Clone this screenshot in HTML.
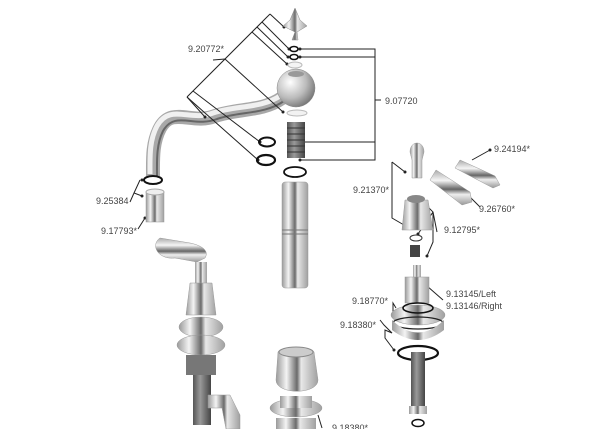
<!DOCTYPE html>
<html><head><meta charset="utf-8"><style>
html,body{margin:0;padding:0;background:#fff;width:600px;height:429px;overflow:hidden}
svg{display:block}
text{font-family:"Liberation Sans",sans-serif;font-size:9px;fill:#444}
</style></head><body>
<svg width="600" height="429" viewBox="0 0 600 429" xmlns="http://www.w3.org/2000/svg">
<defs>
<linearGradient id="m" x1="0" x2="1" y1="0" y2="0">
<stop offset="0" stop-color="#9a9a9a"/><stop offset=".25" stop-color="#f4f4f4"/><stop offset=".5" stop-color="#6a6a6a"/><stop offset=".6" stop-color="#e8e8e8"/><stop offset="1" stop-color="#a0a0a0"/></linearGradient>
<linearGradient id="mv" x1="0" x2="0" y1="0" y2="1">
<stop offset="0" stop-color="#aaa"/><stop offset=".3" stop-color="#f5f5f5"/><stop offset=".55" stop-color="#666"/><stop offset=".7" stop-color="#eee"/><stop offset="1" stop-color="#999"/></linearGradient>
<linearGradient id="d" x1="0" x2="1"><stop offset="0" stop-color="#555"/><stop offset=".4" stop-color="#999"/><stop offset="1" stop-color="#444"/></linearGradient>
<radialGradient id="b" cx=".35" cy=".35" r=".7"><stop offset="0" stop-color="#fff"/><stop offset=".6" stop-color="#bbb"/><stop offset="1" stop-color="#777"/></radialGradient>
</defs>
<!-- spout -->
<path d="M282 98 C262 112 238 108 215 116 C192 125 172 106 160 128 C152 143 153 160 153 176" fill="none" stroke="#a8a8a8" stroke-width="14"/>
<path d="M280 96 C260 109 236 105 213 113 C190 122 170 103 157 126 C149 141 150 158 150 174" fill="none" stroke="#f0f0f0" stroke-width="5"/>
<path d="M284 101 C264 115 240 111 217 119 C194 128 175 110 163 131 C156 145 157 162 157 176" fill="none" stroke="#666" stroke-width="2"/>
<g fill="none" stroke="#222" stroke-width="1">
<path d="M270 14 L187 97"/>
<path d="M270 14 L284 27"/>
<path d="M262 22 L289 49 M257 27 L288 57 M252 32 L287 64"/>
<path d="M225 59 L283 112"/>
<path d="M213 60 L225 59"/>
<path d="M187 97 L205 117"/>
<path d="M193 91 L260 142"/>
<path d="M187 97 L258 160"/>
<path d="M300 49 H375 V160 H300 M300 57 H375 M375 100 H381 M300 142 H375"/>
<path d="M392 162 L405 172 M392 162 V218 L404 225"/>
<path d="M427 206 L433 212 L418 234 M433 212 L437 232 M433 212 V242 L427 256"/>
<path d="M472 160 L490 150"/>
<path d="M466 193 L480 207"/>
<path d="M427 286 L443 300"/>
<path d="M396 308 L393 303 V312 L396 317"/>
<path d="M380 320 L384 325 L392 333 L385 330 V338 L394 350"/>
<path d="M140 180 L134 193 L142 196 M134 193 L130 202"/>
<path d="M145 218 L138 229"/>
<path d="M318 415 L322 428"/>
</g>
<g fill="#222">
<circle cx="289" cy="49" r="1.5"/><circle cx="288" cy="57" r="1.5"/><circle cx="287" cy="64" r="1.5"/><circle cx="284" cy="27" r="1.5"/>
<circle cx="300" cy="49" r="1.5"/><circle cx="300" cy="57" r="1.5"/><circle cx="283" cy="112" r="1.5"/>
<circle cx="260" cy="142" r="1.5"/><circle cx="258" cy="160" r="1.5"/><circle cx="300" cy="142" r="1.5"/><circle cx="300" cy="160" r="1.5"/>
<circle cx="205" cy="117" r="1.5"/><circle cx="405" cy="172" r="1.5"/><circle cx="404" cy="225" r="1.5"/>
<circle cx="427" cy="206" r="1.5"/><circle cx="418" cy="234" r="1.5"/><circle cx="427" cy="256" r="1.5"/>
<circle cx="490" cy="150" r="1.5"/><circle cx="466" cy="193" r="1.5"/><circle cx="427" cy="286" r="1.5"/>
<circle cx="396" cy="317" r="1.5"/><circle cx="394" cy="350" r="1.5"/><circle cx="142" cy="180" r="1.5"/><circle cx="142" cy="196" r="1.5"/><circle cx="145" cy="218" r="1.5"/>
</g>
<path d="M295 8 L290 20 L283 26 L295 32 L292 40 L298 40 L297 32 L307 26 L300 20 Z" fill="url(#m)" stroke="#888" stroke-width=".5"/>
<ellipse cx="294" cy="49" rx="4" ry="2.5" fill="none" stroke="#111" stroke-width="1.6"/>
<ellipse cx="294" cy="57" rx="4" ry="2.5" fill="none" stroke="#111" stroke-width="1.6"/>
<ellipse cx="295" cy="65" rx="7" ry="3" fill="#f4f4f4" stroke="#bbb"/>
<circle cx="296" cy="88" r="19" fill="url(#b)" stroke="#888" stroke-width=".5"/>
<ellipse cx="296" cy="74" rx="8" ry="3" fill="#999"/>
<ellipse cx="297" cy="113" rx="10" ry="3" fill="#f2f2f2" stroke="#bbb"/>
<rect x="287" y="122" width="18" height="36" fill="url(#d)"/>
<path d="M287 128h18M287 134h18M287 140h18M287 146h18M287 152h18" stroke="#333"/>
<ellipse cx="267" cy="142" rx="8" ry="4.5" fill="none" stroke="#111" stroke-width="2"/>
<ellipse cx="266" cy="160" rx="9" ry="5" fill="none" stroke="#111" stroke-width="2.2"/>
<ellipse cx="295" cy="172" rx="11" ry="5" fill="none" stroke="#111" stroke-width="1.8"/>
<rect x="282" y="182" width="26" height="106" rx="3" fill="url(#m)" stroke="#999" stroke-width=".5"/>
<path d="M282 230h26M282 234h26" stroke="#777"/>
<ellipse cx="153" cy="180" rx="9" ry="4" fill="none" stroke="#111" stroke-width="2"/>
<rect x="146" y="192" width="18" height="30" fill="url(#m)" stroke="#999" stroke-width=".5"/>
<ellipse cx="155" cy="192" rx="9" ry="3" fill="#eee" stroke="#aaa"/>
<path d="M410 152 C410 140 424 140 424 152 L422 160 L422 178 L412 178 L412 160 Z" fill="url(#m)" stroke="#999" stroke-width=".5"/>
<path d="M460 160 L495 176 L500 185 L493 188 L455 168 Z" fill="url(#mv)" stroke="#999" stroke-width=".5"/>
<path d="M436 170 L470 192 L472 202 L462 205 L430 180 Z" fill="url(#mv)" stroke="#999" stroke-width=".5"/>
<path d="M405 200 L428 200 L433 230 L402 230 Z" fill="url(#m)" stroke="#999" stroke-width=".5"/>
<ellipse cx="416" cy="199" rx="9" ry="4" fill="#888"/>
<ellipse cx="416" cy="238" rx="6" ry="3" fill="#fff" stroke="#333"/>
<rect x="410" y="245" width="10" height="12" fill="#444"/>
<rect x="413" y="265" width="8" height="12" fill="url(#m)"/>
<rect x="405" y="277" width="24" height="26" fill="url(#m)" stroke="#999" stroke-width=".5"/>
<ellipse cx="418" cy="315" rx="27" ry="10" fill="url(#m)" stroke="#999" stroke-width=".5"/>
<ellipse cx="418" cy="308" rx="15" ry="5" fill="none" stroke="#111" stroke-width="1.6"/>
<ellipse cx="418" cy="323" rx="25" ry="6" fill="none" stroke="#222" stroke-width="1.2"/>
<path d="M392 320 Q418 345 444 320 L444 330 Q418 350 392 330Z" fill="url(#m)"/>
<ellipse cx="418" cy="353" rx="20" ry="7" fill="none" stroke="#111" stroke-width="2.2"/>
<rect x="411" y="352" width="14" height="58" fill="url(#d)"/>
<rect x="409" y="406" width="18" height="8" fill="url(#m)"/>
<ellipse cx="418" cy="423" rx="6" ry="3.5" fill="none" stroke="#111" stroke-width="1.5"/>
<path d="M160 238 C150 245 158 260 175 258 L197 262 L205 258 C210 250 200 245 190 243 Z" fill="url(#mv)" stroke="#999" stroke-width=".5"/>
<rect x="195" y="262" width="12" height="22" fill="url(#m)"/>
<path d="M190 283 L212 283 L216 315 L186 315 Z" fill="url(#m)" stroke="#999" stroke-width=".5"/>
<ellipse cx="201" cy="327" rx="22" ry="10" fill="url(#m)" stroke="#999" stroke-width=".5"/>
<ellipse cx="201" cy="345" rx="24" ry="10" fill="url(#m)" stroke="#999" stroke-width=".5"/>
<rect x="186" y="355" width="30" height="20" fill="#777"/>
<rect x="193" y="375" width="18" height="50" fill="url(#d)"/>
<path d="M208 395 L230 395 L240 415 L240 429 L226 429 L222 408 L208 408 Z" fill="url(#m)" stroke="#999" stroke-width=".5"/>
<path d="M278 352 C280 346 312 346 314 352 L318 380 C318 395 276 395 276 380 Z" fill="url(#m)" stroke="#999" stroke-width=".5"/>
<ellipse cx="296" cy="352" rx="17" ry="5" fill="#ccc" stroke="#888"/>
<ellipse cx="296" cy="408" rx="26" ry="9" fill="url(#m)" stroke="#999" stroke-width=".5"/>
<rect x="280" y="396" width="32" height="12" fill="url(#m)"/>
<rect x="276" y="418" width="40" height="11" fill="url(#m)"/>
<text x="188" y="52">9.20772*</text>
<text x="385" y="104">9.07720</text>
<text x="353" y="193">9.21370*</text>
<text x="494" y="152">9.24194*</text>
<text x="479" y="212">9.26760*</text>
<text x="444" y="233">9.12795*</text>
<text x="446" y="297">9.13145/Left</text>
<text x="446" y="309">9.13146/Right</text>
<text x="352" y="304">9.18770*</text>
<text x="340" y="328">9.18380*</text>
<text x="96" y="204">9.25384</text>
<text x="101" y="234">9.17793*</text>
<text x="332" y="431">9.18380*</text>
</svg>
</body></html>
